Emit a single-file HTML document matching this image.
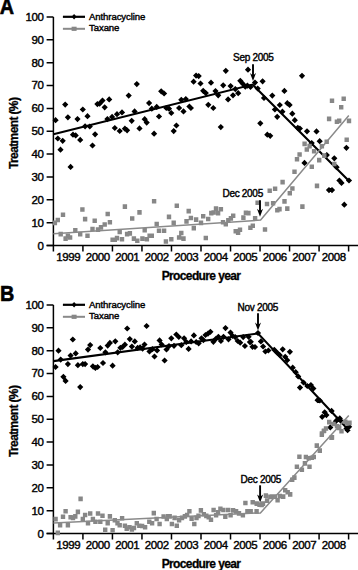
<!DOCTYPE html>
<html><head><meta charset="utf-8"><style>
html,body{margin:0;padding:0;background:#fff;}
body{width:358px;height:570px;overflow:hidden;}
svg{display:block;}
text{font-family:"Liberation Sans",sans-serif;fill:#000;}
.tk{font-size:11.5px;letter-spacing:-0.4px;stroke:#000;stroke-width:0.4px;}
.lg{font-size:9.6px;letter-spacing:-0.1px;stroke:#000;stroke-width:0.4px;}
.an{font-size:10px;letter-spacing:-0.3px;stroke:#000;stroke-width:0.4px;}
.xl{font-size:12px;font-weight:bold;letter-spacing:-0.62px;stroke:#000;stroke-width:0.3px;}
.lt{font-size:22px;font-weight:bold;stroke:#000;stroke-width:0.6px;}
.ax{fill:none;stroke:#000;stroke-width:1.5;}
</style></head><body>
<svg width="358" height="570" viewBox="0 0 358 570">
<rect width="358" height="570" fill="#fff"/>
<text transform="translate(-0.3 14) scale(0.9 1)" class="lt">A</text>
<path d="M53.4 16.9V251.6M46.6 245.6H358" class="ax"/>
<path d="M46.6 245.6H53.4M46.6 222.73H53.4M46.6 199.86H53.4M46.6 176.99H53.4M46.6 154.12H53.4M46.6 131.25H53.4M46.6 108.38H53.4M46.6 85.51H53.4M46.6 62.64H53.4M46.6 39.77H53.4M46.6 16.9H53.4M82.92 245.6V251.6M112.44 245.6V251.6M141.96 245.6V251.6M171.48 245.6V251.6M201 245.6V251.6M230.52 245.6V251.6M260.04 245.6V251.6M289.56 245.6V251.6M319.08 245.6V251.6M348.6 245.6V251.6" class="ax"/>
<text x="43.6" y="249.5" class="tk" text-anchor="end">0</text>
<text x="43.6" y="226.63" class="tk" text-anchor="end">10</text>
<text x="43.6" y="203.76" class="tk" text-anchor="end">20</text>
<text x="43.6" y="180.89" class="tk" text-anchor="end">30</text>
<text x="43.6" y="158.02" class="tk" text-anchor="end">40</text>
<text x="43.6" y="135.15" class="tk" text-anchor="end">50</text>
<text x="43.6" y="112.28" class="tk" text-anchor="end">60</text>
<text x="43.6" y="89.41" class="tk" text-anchor="end">70</text>
<text x="43.6" y="66.54" class="tk" text-anchor="end">80</text>
<text x="43.6" y="43.67" class="tk" text-anchor="end">90</text>
<text x="43.6" y="20.8" class="tk" text-anchor="end">100</text>
<text x="68.16" y="261.2" class="tk" text-anchor="middle">1999</text>
<text x="97.68" y="261.2" class="tk" text-anchor="middle">2000</text>
<text x="127.2" y="261.2" class="tk" text-anchor="middle">2001</text>
<text x="156.72" y="261.2" class="tk" text-anchor="middle">2002</text>
<text x="186.24" y="261.2" class="tk" text-anchor="middle">2003</text>
<text x="215.76" y="261.2" class="tk" text-anchor="middle">2004</text>
<text x="245.28" y="261.2" class="tk" text-anchor="middle">2005</text>
<text x="274.8" y="261.2" class="tk" text-anchor="middle">2006</text>
<text x="304.32" y="261.2" class="tk" text-anchor="middle">2007</text>
<text x="333.84" y="261.2" class="tk" text-anchor="middle">2008</text>
<text x="201" y="280.4" class="xl" text-anchor="middle">Procedure year</text>
<text transform="translate(18.2 133.35) rotate(-90)" class="xl" text-anchor="middle">Treatment (%)</text>
<path d="M62.9 16.8H85" stroke="#000" stroke-width="2.2"/>
<path d="M62.9 28.8H85" stroke="#8a8a8a" stroke-width="2"/>
<path d="M74.1 14.1l2.5 2.7l-2.5 2.7l-2.5 -2.7z" fill="#000"/>
<rect x="71.6" y="26.7" width="5" height="4.2" fill="#878787"/>
<text x="89" y="19.6" class="lg">Anthracycline</text>
<text x="89" y="31.2" class="lg">Taxane</text>
<path d="M55.6 117.1l3.1 3.1l-3.1 3.1l-3.1 -3.1zM65.2 101.5l3.1 3.1l-3.1 3.1l-3.1 -3.1zM57.8 135.4l3.1 3.1l-3.1 3.1l-3.1 -3.1zM62.7 137.7l3.1 3.1l-3.1 3.1l-3.1 -3.1zM60.5 146.6l3.1 3.1l-3.1 3.1l-3.1 -3.1zM67.9 114.2l3.1 3.1l-3.1 3.1l-3.1 -3.1zM70.6 163.8l3.1 3.1l-3.1 3.1l-3.1 -3.1zM73 131.6l3.1 3.1l-3.1 3.1l-3.1 -3.1zM75.7 132.3l3.1 3.1l-3.1 3.1l-3.1 -3.1zM77.5 116l3.1 3.1l-3.1 3.1l-3.1 -3.1zM80.2 136.8l3.1 3.1l-3.1 3.1l-3.1 -3.1zM82.8 106.4l3.1 3.1l-3.1 3.1l-3.1 -3.1zM85.1 123.2l3.1 3.1l-3.1 3.1l-3.1 -3.1zM87.5 113.1l3.1 3.1l-3.1 3.1l-3.1 -3.1zM89.8 123.4l3.1 3.1l-3.1 3.1l-3.1 -3.1zM92.5 142.4l3.1 3.1l-3.1 3.1l-3.1 -3.1zM95.1 131.2l3.1 3.1l-3.1 3.1l-3.1 -3.1zM97.4 101l3.1 3.1l-3.1 3.1l-3.1 -3.1zM99.6 100.6l3.1 3.1l-3.1 3.1l-3.1 -3.1zM102.5 97.5l3.1 3.1l-3.1 3.1l-3.1 -3.1zM104.7 104.2l3.1 3.1l-3.1 3.1l-3.1 -3.1zM107.4 116l3.1 3.1l-3.1 3.1l-3.1 -3.1zM109.2 96.3l3.1 3.1l-3.1 3.1l-3.1 -3.1zM112.1 113.8l3.1 3.1l-3.1 3.1l-3.1 -3.1zM114.8 124.9l3.1 3.1l-3.1 3.1l-3.1 -3.1zM117 111.1l3.1 3.1l-3.1 3.1l-3.1 -3.1zM119.7 127.9l3.1 3.1l-3.1 3.1l-3.1 -3.1zM122 109.3l3.1 3.1l-3.1 3.1l-3.1 -3.1zM124.9 125.6l3.1 3.1l-3.1 3.1l-3.1 -3.1zM127.1 127.2l3.1 3.1l-3.1 3.1l-3.1 -3.1zM128.7 92.5l3.1 3.1l-3.1 3.1l-3.1 -3.1zM131.7 117.7l3.1 3.1l-3.1 3.1l-3.1 -3.1zM134.6 108.3l3.1 3.1l-3.1 3.1l-3.1 -3.1zM136.8 81l3.1 3.1l-3.1 3.1l-3.1 -3.1zM139.5 125.3l3.1 3.1l-3.1 3.1l-3.1 -3.1zM144.7 116.1l3.1 3.1l-3.1 3.1l-3.1 -3.1zM146.7 119.5l3.1 3.1l-3.1 3.1l-3.1 -3.1zM149.1 100l3.1 3.1l-3.1 3.1l-3.1 -3.1zM151.8 105.6l3.1 3.1l-3.1 3.1l-3.1 -3.1zM154.1 130.6l3.1 3.1l-3.1 3.1l-3.1 -3.1zM156.7 103.8l3.1 3.1l-3.1 3.1l-3.1 -3.1zM159 113.4l3.1 3.1l-3.1 3.1l-3.1 -3.1zM161.2 88.2l3.1 3.1l-3.1 3.1l-3.1 -3.1zM164.1 90.4l3.1 3.1l-3.1 3.1l-3.1 -3.1zM166.3 104.9l3.1 3.1l-3.1 3.1l-3.1 -3.1zM169 105.6l3.1 3.1l-3.1 3.1l-3.1 -3.1zM171.3 109.9l3.1 3.1l-3.1 3.1l-3.1 -3.1zM173.7 128l3.1 3.1l-3.1 3.1l-3.1 -3.1zM176.4 122.4l3.1 3.1l-3.1 3.1l-3.1 -3.1zM179.1 104.9l3.1 3.1l-3.1 3.1l-3.1 -3.1zM181.3 96.7l3.1 3.1l-3.1 3.1l-3.1 -3.1zM183.5 108.3l3.1 3.1l-3.1 3.1l-3.1 -3.1zM185.8 96l3.1 3.1l-3.1 3.1l-3.1 -3.1zM189.4 103.4l3.1 3.1l-3.1 3.1l-3.1 -3.1zM190.9 104.9l3.1 3.1l-3.1 3.1l-3.1 -3.1zM193.6 78.6l3.1 3.1l-3.1 3.1l-3.1 -3.1zM196.1 72.5l3.1 3.1l-3.1 3.1l-3.1 -3.1zM198.7 73l3.1 3.1l-3.1 3.1l-3.1 -3.1zM200.5 80.4l3.1 3.1l-3.1 3.1l-3.1 -3.1zM203.2 87.7l3.1 3.1l-3.1 3.1l-3.1 -3.1zM205.8 90l3.1 3.1l-3.1 3.1l-3.1 -3.1zM208.3 101.7l3.1 3.1l-3.1 3.1l-3.1 -3.1zM211 79.6l3.1 3.1l-3.1 3.1l-3.1 -3.1zM213.3 104.9l3.1 3.1l-3.1 3.1l-3.1 -3.1zM215.5 88l3.1 3.1l-3.1 3.1l-3.1 -3.1zM218.2 92.2l3.1 3.1l-3.1 3.1l-3.1 -3.1zM220.8 124l3.1 3.1l-3.1 3.1l-3.1 -3.1zM223.2 82.2l3.1 3.1l-3.1 3.1l-3.1 -3.1zM225.8 67.7l3.1 3.1l-3.1 3.1l-3.1 -3.1zM228.1 96.3l3.1 3.1l-3.1 3.1l-3.1 -3.1zM230.6 83l3.1 3.1l-3.1 3.1l-3.1 -3.1zM233 92.2l3.1 3.1l-3.1 3.1l-3.1 -3.1zM235.3 86l3.1 3.1l-3.1 3.1l-3.1 -3.1zM238.2 90.1l3.1 3.1l-3.1 3.1l-3.1 -3.1zM240.3 77.7l3.1 3.1l-3.1 3.1l-3.1 -3.1zM242.5 80.3l3.1 3.1l-3.1 3.1l-3.1 -3.1zM245.3 83.6l3.1 3.1l-3.1 3.1l-3.1 -3.1zM247.4 82.5l3.1 3.1l-3.1 3.1l-3.1 -3.1zM248 66.6l3.1 3.1l-3.1 3.1l-3.1 -3.1zM250.5 83.9l3.1 3.1l-3.1 3.1l-3.1 -3.1zM255 79.5l3.1 3.1l-3.1 3.1l-3.1 -3.1zM257.7 85.4l3.1 3.1l-3.1 3.1l-3.1 -3.1zM260.3 120.2l3.1 3.1l-3.1 3.1l-3.1 -3.1zM262.6 78.2l3.1 3.1l-3.1 3.1l-3.1 -3.1zM264 94.9l3.1 3.1l-3.1 3.1l-3.1 -3.1zM267.3 131.6l3.1 3.1l-3.1 3.1l-3.1 -3.1zM270.2 132.7l3.1 3.1l-3.1 3.1l-3.1 -3.1zM272.3 92.5l3.1 3.1l-3.1 3.1l-3.1 -3.1zM274.9 106.4l3.1 3.1l-3.1 3.1l-3.1 -3.1zM277.2 113.7l3.1 3.1l-3.1 3.1l-3.1 -3.1zM279.8 101.9l3.1 3.1l-3.1 3.1l-3.1 -3.1zM282.4 108.6l3.1 3.1l-3.1 3.1l-3.1 -3.1zM284.4 87.8l3.1 3.1l-3.1 3.1l-3.1 -3.1zM287.3 100.1l3.1 3.1l-3.1 3.1l-3.1 -3.1zM289.6 101.8l3.1 3.1l-3.1 3.1l-3.1 -3.1zM292.3 110.6l3.1 3.1l-3.1 3.1l-3.1 -3.1zM294.8 117.1l3.1 3.1l-3.1 3.1l-3.1 -3.1zM297.8 124.7l3.1 3.1l-3.1 3.1l-3.1 -3.1zM299.9 125.4l3.1 3.1l-3.1 3.1l-3.1 -3.1zM302 72.7l3.1 3.1l-3.1 3.1l-3.1 -3.1zM304.5 159.8l3.1 3.1l-3.1 3.1l-3.1 -3.1zM307 128.2l3.1 3.1l-3.1 3.1l-3.1 -3.1zM311.7 140l3.1 3.1l-3.1 3.1l-3.1 -3.1zM316.5 128.3l3.1 3.1l-3.1 3.1l-3.1 -3.1zM319.7 138.1l3.1 3.1l-3.1 3.1l-3.1 -3.1zM326.8 152l3.1 3.1l-3.1 3.1l-3.1 -3.1zM329 187l3.1 3.1l-3.1 3.1l-3.1 -3.1zM332 187l3.1 3.1l-3.1 3.1l-3.1 -3.1zM334.3 155.2l3.1 3.1l-3.1 3.1l-3.1 -3.1zM336.6 164.1l3.1 3.1l-3.1 3.1l-3.1 -3.1zM339.4 177.4l3.1 3.1l-3.1 3.1l-3.1 -3.1zM341.5 179.8l3.1 3.1l-3.1 3.1l-3.1 -3.1zM344.3 201.6l3.1 3.1l-3.1 3.1l-3.1 -3.1zM346.4 144.7l3.1 3.1l-3.1 3.1l-3.1 -3.1zM349 177.4l3.1 3.1l-3.1 3.1l-3.1 -3.1z" fill="#000"/>
<polyline points="53.4 134.2 252.6 84.6 348.8 180.7" fill="none" stroke="#000" stroke-width="2.1"/>
<path d="M52.7 220.6h4.4v4.6h-4.4zM55.6 217.7h4.4v4.6h-4.4zM58.5 231.8h4.4v4.6h-4.4zM60.8 212.4h4.4v4.6h-4.4zM63.4 236.3h4.4v4.6h-4.4zM65.7 233.4h4.4v4.6h-4.4zM67.9 235.2h4.4v4.6h-4.4zM73.1 228h4.4v4.6h-4.4zM78 231.8h4.4v4.6h-4.4zM80.2 207.2h4.4v4.6h-4.4zM82.9 216.8h4.4v4.6h-4.4zM85.3 233.4h4.4v4.6h-4.4zM90.3 226.7h4.4v4.6h-4.4zM92.5 218.4h4.4v4.6h-4.4zM95.8 227.3h4.4v4.6h-4.4zM98.8 225.1h4.4v4.6h-4.4zM102.5 222.2h4.4v4.6h-4.4zM105.5 211.7h4.4v4.6h-4.4zM107.7 220h4.4v4.6h-4.4zM110.4 237.4h4.4v4.6h-4.4zM112.6 237.4h4.4v4.6h-4.4zM114.8 235.8h4.4v4.6h-4.4zM117.5 229.6h4.4v4.6h-4.4zM119.8 236.9h4.4v4.6h-4.4zM122.7 204.3h4.4v4.6h-4.4zM124.9 231.8h4.4v4.6h-4.4zM127.7 231.1h4.4v4.6h-4.4zM130 216.2h4.4v4.6h-4.4zM131.7 236.3h4.4v4.6h-4.4zM135.1 238.5h4.4v4.6h-4.4zM137.3 210.1h4.4v4.6h-4.4zM140.2 236.3h4.4v4.6h-4.4zM142.5 228h4.4v4.6h-4.4zM144.7 236.9h4.4v4.6h-4.4zM147.4 233.4h4.4v4.6h-4.4zM149.6 233.4h4.4v4.6h-4.4zM151.9 199h4.4v4.6h-4.4zM154.5 221.7h4.4v4.6h-4.4zM156.8 228.5h4.4v4.6h-4.4zM161.9 228.5h4.4v4.6h-4.4zM163.7 239.2h4.4v4.6h-4.4zM166.8 214.6h4.4v4.6h-4.4zM169.1 236.9h4.4v4.6h-4.4zM171.5 220.6h4.4v4.6h-4.4zM174.6 203.4h4.4v4.6h-4.4zM176.9 235.2h4.4v4.6h-4.4zM179.1 230.7h4.4v4.6h-4.4zM181.3 236.3h4.4v4.6h-4.4zM184.3 219.1h4.4v4.6h-4.4zM186.5 208.8h4.4v4.6h-4.4zM188.7 215.7h4.4v4.6h-4.4zM191.6 225.8h4.4v4.6h-4.4zM193.9 217.3h4.4v4.6h-4.4zM198.8 220.6h4.4v4.6h-4.4zM201 213.9h4.4v4.6h-4.4zM203.6 235.7h4.4v4.6h-4.4zM206 216.7h4.4v4.6h-4.4zM209.1 210.8h4.4v4.6h-4.4zM211.4 210.2h4.4v4.6h-4.4zM213.8 206.3h4.4v4.6h-4.4zM215.9 210.8h4.4v4.6h-4.4zM218.7 206.9h4.4v4.6h-4.4zM220.8 220h4.4v4.6h-4.4zM223.6 222h4.4v4.6h-4.4zM226.1 218.1h4.4v4.6h-4.4zM228.7 216.1h4.4v4.6h-4.4zM231 213.4h4.4v4.6h-4.4zM233.5 229h4.4v4.6h-4.4zM235.9 230.4h4.4v4.6h-4.4zM237.8 227.5h4.4v4.6h-4.4zM241.2 215.3h4.4v4.6h-4.4zM243.7 210.4h4.4v4.6h-4.4zM246.2 210.8h4.4v4.6h-4.4zM248.2 225.5h4.4v4.6h-4.4zM250.6 223.5h4.4v4.6h-4.4zM252.9 216.1h4.4v4.6h-4.4zM255.4 200.5h4.4v4.6h-4.4zM262.8 227.2h4.4v4.6h-4.4zM264.8 201.7h4.4v4.6h-4.4zM267.5 188.4h4.4v4.6h-4.4zM270.9 200.9h4.4v4.6h-4.4zM272.9 186.5h4.4v4.6h-4.4zM275.1 208h4.4v4.6h-4.4zM277.3 206.8h4.4v4.6h-4.4zM280.4 179.8h4.4v4.6h-4.4zM282.3 199.1h4.4v4.6h-4.4zM285.1 206.3h4.4v4.6h-4.4zM287.6 190.9h4.4v4.6h-4.4zM290.2 186.2h4.4v4.6h-4.4zM292.3 169.5h4.4v4.6h-4.4zM294.8 156.9h4.4v4.6h-4.4zM297.4 152.2h4.4v4.6h-4.4zM300.2 204.3h4.4v4.6h-4.4zM302.4 141.6h4.4v4.6h-4.4zM304.6 147.2h4.4v4.6h-4.4zM307.4 143.8h4.4v4.6h-4.4zM309.6 164.5h4.4v4.6h-4.4zM311.9 148.9h4.4v4.6h-4.4zM314.8 183.6h4.4v4.6h-4.4zM317 157.8h4.4v4.6h-4.4zM319.7 143.9h4.4v4.6h-4.4zM322.1 153.3h4.4v4.6h-4.4zM324.5 139.4h4.4v4.6h-4.4zM326.9 116.6h4.4v4.6h-4.4zM329.8 98.5h4.4v4.6h-4.4zM332.1 161.7h4.4v4.6h-4.4zM334.7 119.4h4.4v4.6h-4.4zM337 118.6h4.4v4.6h-4.4zM339 104.9h4.4v4.6h-4.4zM341.5 96.5h4.4v4.6h-4.4zM344.5 137.5h4.4v4.6h-4.4zM346.8 118.6h4.4v4.6h-4.4z" fill="#878787"/>
<polyline points="53.4 233.8 260.6 220.1 348.8 115.6" fill="none" stroke="#8a8a8a" stroke-width="1.5"/>
<text x="253.3" y="61" class="an" text-anchor="middle">Sep 2005</text>
<path d="M253 64.2V78" fill="none" stroke="#000" stroke-width="1.9"/>
<path d="M250 73L253 75.4L256 73L253 81z" fill="#000"/>
<text x="242.7" y="196.7" class="an" text-anchor="middle">Dec 2005</text>
<path d="M260 200.2V213.8" fill="none" stroke="#000" stroke-width="1.9"/>
<path d="M257 208.8L260 211.2L263 208.8L260 216.8z" fill="#000"/>
<text transform="translate(0.0 301) scale(0.9 1)" class="lt">B</text>
<path d="M53.4 304.9V539.6M46.6 533.6H358" class="ax"/>
<path d="M46.6 533.6H53.4M46.6 510.73H53.4M46.6 487.86H53.4M46.6 464.99H53.4M46.6 442.12H53.4M46.6 419.25H53.4M46.6 396.38H53.4M46.6 373.51H53.4M46.6 350.64H53.4M46.6 327.77H53.4M46.6 304.9H53.4M82.92 533.6V539.6M112.44 533.6V539.6M141.96 533.6V539.6M171.48 533.6V539.6M201 533.6V539.6M230.52 533.6V539.6M260.04 533.6V539.6M289.56 533.6V539.6M319.08 533.6V539.6M348.6 533.6V539.6" class="ax"/>
<text x="43.6" y="537.5" class="tk" text-anchor="end">0</text>
<text x="43.6" y="514.63" class="tk" text-anchor="end">10</text>
<text x="43.6" y="491.76" class="tk" text-anchor="end">20</text>
<text x="43.6" y="468.89" class="tk" text-anchor="end">30</text>
<text x="43.6" y="446.02" class="tk" text-anchor="end">40</text>
<text x="43.6" y="423.15" class="tk" text-anchor="end">50</text>
<text x="43.6" y="400.28" class="tk" text-anchor="end">60</text>
<text x="43.6" y="377.41" class="tk" text-anchor="end">70</text>
<text x="43.6" y="354.54" class="tk" text-anchor="end">80</text>
<text x="43.6" y="331.67" class="tk" text-anchor="end">90</text>
<text x="43.6" y="308.8" class="tk" text-anchor="end">100</text>
<text x="68.16" y="549.2" class="tk" text-anchor="middle">1999</text>
<text x="97.68" y="549.2" class="tk" text-anchor="middle">2000</text>
<text x="127.2" y="549.2" class="tk" text-anchor="middle">2001</text>
<text x="156.72" y="549.2" class="tk" text-anchor="middle">2002</text>
<text x="186.24" y="549.2" class="tk" text-anchor="middle">2003</text>
<text x="215.76" y="549.2" class="tk" text-anchor="middle">2004</text>
<text x="245.28" y="549.2" class="tk" text-anchor="middle">2005</text>
<text x="274.8" y="549.2" class="tk" text-anchor="middle">2006</text>
<text x="304.32" y="549.2" class="tk" text-anchor="middle">2007</text>
<text x="333.84" y="549.2" class="tk" text-anchor="middle">2008</text>
<text x="201" y="568.4" class="xl" text-anchor="middle">Procedure year</text>
<text transform="translate(18.2 421.35) rotate(-90)" class="xl" text-anchor="middle">Treatment (%)</text>
<path d="M62.9 304.8H85" stroke="#000" stroke-width="2.2"/>
<path d="M62.9 316.8H85" stroke="#8a8a8a" stroke-width="2"/>
<path d="M74.1 302.1l2.5 2.7l-2.5 2.7l-2.5 -2.7z" fill="#000"/>
<rect x="71.6" y="314.7" width="5" height="4.2" fill="#878787"/>
<text x="89" y="307.6" class="lg">Anthracycline</text>
<text x="89" y="319.2" class="lg">Taxane</text>
<path d="M55.6 363.9l3.1 3.1l-3.1 3.1l-3.1 -3.1zM58.5 347.6l3.1 3.1l-3.1 3.1l-3.1 -3.1zM60.7 356.5l3.1 3.1l-3.1 3.1l-3.1 -3.1zM63.4 373.7l3.1 3.1l-3.1 3.1l-3.1 -3.1zM65.6 377.8l3.1 3.1l-3.1 3.1l-3.1 -3.1zM67.9 361l3.1 3.1l-3.1 3.1l-3.1 -3.1zM70.6 352.5l3.1 3.1l-3.1 3.1l-3.1 -3.1zM72.8 336.4l3.1 3.1l-3.1 3.1l-3.1 -3.1zM75.7 350.3l3.1 3.1l-3.1 3.1l-3.1 -3.1zM77.9 362.1l3.1 3.1l-3.1 3.1l-3.1 -3.1zM80.2 384l3.1 3.1l-3.1 3.1l-3.1 -3.1zM82.8 361l3.1 3.1l-3.1 3.1l-3.1 -3.1zM85.1 361l3.1 3.1l-3.1 3.1l-3.1 -3.1zM88 346.5l3.1 3.1l-3.1 3.1l-3.1 -3.1zM90.2 342l3.1 3.1l-3.1 3.1l-3.1 -3.1zM92.9 363.2l3.1 3.1l-3.1 3.1l-3.1 -3.1zM95.4 364.8l3.1 3.1l-3.1 3.1l-3.1 -3.1zM97.6 363.9l3.1 3.1l-3.1 3.1l-3.1 -3.1zM100.3 344.9l3.1 3.1l-3.1 3.1l-3.1 -3.1zM103 359.9l3.1 3.1l-3.1 3.1l-3.1 -3.1zM105.4 349.2l3.1 3.1l-3.1 3.1l-3.1 -3.1zM107.7 342.5l3.1 3.1l-3.1 3.1l-3.1 -3.1zM109.9 339.8l3.1 3.1l-3.1 3.1l-3.1 -3.1zM112.6 362.6l3.1 3.1l-3.1 3.1l-3.1 -3.1zM115.3 338.2l3.1 3.1l-3.1 3.1l-3.1 -3.1zM117.7 349.2l3.1 3.1l-3.1 3.1l-3.1 -3.1zM120.4 344.7l3.1 3.1l-3.1 3.1l-3.1 -3.1zM122.6 343.8l3.1 3.1l-3.1 3.1l-3.1 -3.1zM124.9 341.6l3.1 3.1l-3.1 3.1l-3.1 -3.1zM127.2 325.4l3.1 3.1l-3.1 3.1l-3.1 -3.1zM129.8 336l3.1 3.1l-3.1 3.1l-3.1 -3.1zM131.9 343.5l3.1 3.1l-3.1 3.1l-3.1 -3.1zM134.8 338.3l3.1 3.1l-3.1 3.1l-3.1 -3.1zM137.6 344.8l3.1 3.1l-3.1 3.1l-3.1 -3.1zM140.1 344.3l3.1 3.1l-3.1 3.1l-3.1 -3.1zM142.6 345.6l3.1 3.1l-3.1 3.1l-3.1 -3.1zM144.5 341.4l3.1 3.1l-3.1 3.1l-3.1 -3.1zM146.6 322.9l3.1 3.1l-3.1 3.1l-3.1 -3.1zM149.5 348.3l3.1 3.1l-3.1 3.1l-3.1 -3.1zM152.4 346.1l3.1 3.1l-3.1 3.1l-3.1 -3.1zM154.5 353.4l3.1 3.1l-3.1 3.1l-3.1 -3.1zM157.1 347.3l3.1 3.1l-3.1 3.1l-3.1 -3.1zM159.6 337.3l3.1 3.1l-3.1 3.1l-3.1 -3.1zM161.7 341.4l3.1 3.1l-3.1 3.1l-3.1 -3.1zM164.6 357.4l3.1 3.1l-3.1 3.1l-3.1 -3.1zM166.5 346.4l3.1 3.1l-3.1 3.1l-3.1 -3.1zM169 343l3.1 3.1l-3.1 3.1l-3.1 -3.1zM171.3 335.2l3.1 3.1l-3.1 3.1l-3.1 -3.1zM174 342.7l3.1 3.1l-3.1 3.1l-3.1 -3.1zM176.3 331.4l3.1 3.1l-3.1 3.1l-3.1 -3.1zM178.8 333.9l3.1 3.1l-3.1 3.1l-3.1 -3.1zM181.3 342.1l3.1 3.1l-3.1 3.1l-3.1 -3.1zM184.1 335.2l3.1 3.1l-3.1 3.1l-3.1 -3.1zM186.4 338.9l3.1 3.1l-3.1 3.1l-3.1 -3.1zM188.6 345.8l3.1 3.1l-3.1 3.1l-3.1 -3.1zM191.1 338.3l3.1 3.1l-3.1 3.1l-3.1 -3.1zM193.9 332.3l3.1 3.1l-3.1 3.1l-3.1 -3.1zM196.2 338.9l3.1 3.1l-3.1 3.1l-3.1 -3.1zM198.7 340.2l3.1 3.1l-3.1 3.1l-3.1 -3.1zM201.5 335.2l3.1 3.1l-3.1 3.1l-3.1 -3.1zM203.4 337l3.1 3.1l-3.1 3.1l-3.1 -3.1zM205.5 331.9l3.1 3.1l-3.1 3.1l-3.1 -3.1zM208 330.5l3.1 3.1l-3.1 3.1l-3.1 -3.1zM210.4 328.7l3.1 3.1l-3.1 3.1l-3.1 -3.1zM213.4 338.7l3.1 3.1l-3.1 3.1l-3.1 -3.1zM215.9 335.7l3.1 3.1l-3.1 3.1l-3.1 -3.1zM218.4 333.7l3.1 3.1l-3.1 3.1l-3.1 -3.1zM220.9 337.9l3.1 3.1l-3.1 3.1l-3.1 -3.1zM223.5 333.7l3.1 3.1l-3.1 3.1l-3.1 -3.1zM225.5 325l3.1 3.1l-3.1 3.1l-3.1 -3.1zM228.5 336.2l3.1 3.1l-3.1 3.1l-3.1 -3.1zM230.5 329.5l3.1 3.1l-3.1 3.1l-3.1 -3.1zM232.7 332.9l3.1 3.1l-3.1 3.1l-3.1 -3.1zM235.2 334l3.1 3.1l-3.1 3.1l-3.1 -3.1zM237.7 337.9l3.1 3.1l-3.1 3.1l-3.1 -3.1zM240.2 339.6l3.1 3.1l-3.1 3.1l-3.1 -3.1zM243.2 334l3.1 3.1l-3.1 3.1l-3.1 -3.1zM244.9 342.9l3.1 3.1l-3.1 3.1l-3.1 -3.1zM248.6 333.7l3.1 3.1l-3.1 3.1l-3.1 -3.1zM249.9 339l3.1 3.1l-3.1 3.1l-3.1 -3.1zM250.8 338.7l3.1 3.1l-3.1 3.1l-3.1 -3.1zM252.5 343.7l3.1 3.1l-3.1 3.1l-3.1 -3.1zM255 343.9l3.1 3.1l-3.1 3.1l-3.1 -3.1zM258 329.9l3.1 3.1l-3.1 3.1l-3.1 -3.1zM260.9 338.3l3.1 3.1l-3.1 3.1l-3.1 -3.1zM263.1 343.4l3.1 3.1l-3.1 3.1l-3.1 -3.1zM265.4 348.4l3.1 3.1l-3.1 3.1l-3.1 -3.1zM268.4 347.4l3.1 3.1l-3.1 3.1l-3.1 -3.1zM274.3 346.7l3.1 3.1l-3.1 3.1l-3.1 -3.1zM277.1 349.6l3.1 3.1l-3.1 3.1l-3.1 -3.1zM279.8 352.1l3.1 3.1l-3.1 3.1l-3.1 -3.1zM282.7 346.2l3.1 3.1l-3.1 3.1l-3.1 -3.1zM285.2 353.7l3.1 3.1l-3.1 3.1l-3.1 -3.1zM287.2 357.1l3.1 3.1l-3.1 3.1l-3.1 -3.1zM289.9 348.7l3.1 3.1l-3.1 3.1l-3.1 -3.1zM292.7 364.6l3.1 3.1l-3.1 3.1l-3.1 -3.1zM295.7 369.1l3.1 3.1l-3.1 3.1l-3.1 -3.1zM298.2 373.3l3.1 3.1l-3.1 3.1l-3.1 -3.1zM300 384.5l3.1 3.1l-3.1 3.1l-3.1 -3.1zM303.5 379.4l3.1 3.1l-3.1 3.1l-3.1 -3.1zM307.3 382.9l3.1 3.1l-3.1 3.1l-3.1 -3.1zM310.9 382l3.1 3.1l-3.1 3.1l-3.1 -3.1zM313.4 385.4l3.1 3.1l-3.1 3.1l-3.1 -3.1zM317.6 397.1l3.1 3.1l-3.1 3.1l-3.1 -3.1zM319.8 397.4l3.1 3.1l-3.1 3.1l-3.1 -3.1zM322.2 413.7l3.1 3.1l-3.1 3.1l-3.1 -3.1zM324.7 409.2l3.1 3.1l-3.1 3.1l-3.1 -3.1zM326.4 412l3.1 3.1l-3.1 3.1l-3.1 -3.1zM331.6 407.8l3.1 3.1l-3.1 3.1l-3.1 -3.1zM330.3 424.3l3.1 3.1l-3.1 3.1l-3.1 -3.1zM335.9 418.1l3.1 3.1l-3.1 3.1l-3.1 -3.1zM339.8 415.3l3.1 3.1l-3.1 3.1l-3.1 -3.1zM346.5 425.4l3.1 3.1l-3.1 3.1l-3.1 -3.1zM349.1 423.7l3.1 3.1l-3.1 3.1l-3.1 -3.1zM337.4 416.5l3.1 3.1l-3.1 3.1l-3.1 -3.1zM340.6 417.5l3.1 3.1l-3.1 3.1l-3.1 -3.1zM347.6 427.1l3.1 3.1l-3.1 3.1l-3.1 -3.1z" fill="#000"/>
<polyline points="53.4 361.1 258.1 333.5 348.8 430.3" fill="none" stroke="#000" stroke-width="2.1"/>
<path d="M53.4 516.8h4.4v4.6h-4.4zM55.6 530.6h4.4v4.6h-4.4zM57.9 523h4.4v4.6h-4.4zM60.8 514.5h4.4v4.6h-4.4zM63.4 508.9h4.4v4.6h-4.4zM65.7 523h4.4v4.6h-4.4zM68.4 515h4.4v4.6h-4.4zM70.8 515.6h4.4v4.6h-4.4zM73.1 514.1h4.4v4.6h-4.4zM75.7 509.6h4.4v4.6h-4.4zM78.4 496.6h4.4v4.6h-4.4zM80.6 516.8h4.4v4.6h-4.4zM82.9 512.7h4.4v4.6h-4.4zM85.8 520.8h4.4v4.6h-4.4zM88 511.2h4.4v4.6h-4.4zM90.7 516.8h4.4v4.6h-4.4zM93.2 519.4h4.4v4.6h-4.4zM95.8 511.2h4.4v4.6h-4.4zM98.1 519.4h4.4v4.6h-4.4zM100.3 513.4h4.4v4.6h-4.4zM103 527.5h4.4v4.6h-4.4zM105.5 520.8h4.4v4.6h-4.4zM107.7 514.1h4.4v4.6h-4.4zM110.4 527.9h4.4v4.6h-4.4zM112.6 517.9h4.4v4.6h-4.4zM115.3 520.8h4.4v4.6h-4.4zM117.5 523h4.4v4.6h-4.4zM119.9 516h4.4v4.6h-4.4zM122.7 523.4h4.4v4.6h-4.4zM124.5 526.4h4.4v4.6h-4.4zM127.3 525h4.4v4.6h-4.4zM129.7 527.1h4.4v4.6h-4.4zM131.8 525.7h4.4v4.6h-4.4zM134.6 520.9h4.4v4.6h-4.4zM137.1 523.4h4.4v4.6h-4.4zM139.9 523.7h4.4v4.6h-4.4zM142.9 525h4.4v4.6h-4.4zM147.1 519.5h4.4v4.6h-4.4zM149.9 520.9h4.4v4.6h-4.4zM151.6 510.8h4.4v4.6h-4.4zM154.4 516.7h4.4v4.6h-4.4zM157.4 521.7h4.4v4.6h-4.4zM161.4 514.2h4.4v4.6h-4.4zM164.6 516.7h4.4v4.6h-4.4zM166 513.9h4.4v4.6h-4.4zM167.5 514.1h4.4v4.6h-4.4zM169.7 521.7h4.4v4.6h-4.4zM172.4 515.6h4.4v4.6h-4.4zM174.6 523.5h4.4v4.6h-4.4zM176.9 517.9h4.4v4.6h-4.4zM179.8 515.6h4.4v4.6h-4.4zM182.7 514.1h4.4v4.6h-4.4zM184.9 512.7h4.4v4.6h-4.4zM187.2 508.9h4.4v4.6h-4.4zM189.4 516.3h4.4v4.6h-4.4zM192.1 521.7h4.4v4.6h-4.4zM194.3 515.6h4.4v4.6h-4.4zM196.3 513.6h4.4v4.6h-4.4zM198.7 508.1h4.4v4.6h-4.4zM201.6 512h4.4v4.6h-4.4zM204.1 513.6h4.4v4.6h-4.4zM206.5 515h4.4v4.6h-4.4zM208.8 517.5h4.4v4.6h-4.4zM211.4 507.7h4.4v4.6h-4.4zM213.9 513h4.4v4.6h-4.4zM215.9 510.1h4.4v4.6h-4.4zM218.2 506.6h4.4v4.6h-4.4zM221.2 507.7h4.4v4.6h-4.4zM223.1 514.4h4.4v4.6h-4.4zM226 507.7h4.4v4.6h-4.4zM228.4 513h4.4v4.6h-4.4zM230.9 508.1h4.4v4.6h-4.4zM233.9 509.1h4.4v4.6h-4.4zM236.8 511.1h4.4v4.6h-4.4zM240.7 513h4.4v4.6h-4.4zM243.2 500.7h4.4v4.6h-4.4zM245.2 509.1h4.4v4.6h-4.4zM248.5 509.1h4.4v4.6h-4.4zM250.5 499.9h4.4v4.6h-4.4zM254.4 509.1h4.4v4.6h-4.4zM254.5 501.3h4.4v4.6h-4.4zM257.3 502.3h4.4v4.6h-4.4zM259.5 502.6h4.4v4.6h-4.4zM260.8 501.3h4.4v4.6h-4.4zM263.7 493.3h4.4v4.6h-4.4zM264.9 498.3h4.4v4.6h-4.4zM268.2 494.6h4.4v4.6h-4.4zM269.9 494.3h4.4v4.6h-4.4zM272.6 494.3h4.4v4.6h-4.4zM275.4 497.9h4.4v4.6h-4.4zM277.6 493.8h4.4v4.6h-4.4zM281 494.3h4.4v4.6h-4.4zM283 487.9h4.4v4.6h-4.4zM285.5 489.9h4.4v4.6h-4.4zM288 492.1h4.4v4.6h-4.4zM290 477.5h4.4v4.6h-4.4zM292.2 475.3h4.4v4.6h-4.4zM294.7 464.4h4.4v4.6h-4.4zM297.2 454.4h4.4v4.6h-4.4zM299.7 467.4h4.4v4.6h-4.4zM302.7 461.1h4.4v4.6h-4.4zM303.7 454.7h4.4v4.6h-4.4zM306.5 456h4.4v4.6h-4.4zM307.3 464.4h4.4v4.6h-4.4zM309.6 455.5h4.4v4.6h-4.4zM311.6 454.7h4.4v4.6h-4.4zM314.6 443.3h4.4v4.6h-4.4zM317.6 448.3h4.4v4.6h-4.4zM319.6 432.5h4.4v4.6h-4.4zM321.6 428.7h4.4v4.6h-4.4zM323.8 426.2h4.4v4.6h-4.4zM327 419.8h4.4v4.6h-4.4zM329.3 435.4h4.4v4.6h-4.4zM331.4 421.7h4.4v4.6h-4.4zM334.8 424h4.4v4.6h-4.4zM337 425.6h4.4v4.6h-4.4zM339.3 429h4.4v4.6h-4.4zM343.1 419.5h4.4v4.6h-4.4zM345.1 421.2h4.4v4.6h-4.4zM347.3 420.6h4.4v4.6h-4.4zM321.9 428.4h4.4v4.6h-4.4zM319.7 431.2h4.4v4.6h-4.4zM329.8 435.1h4.4v4.6h-4.4z" fill="#878787"/>
<polyline points="53.4 523.1 260.4 512.9 348.8 415.6" fill="none" stroke="#8a8a8a" stroke-width="1.5"/>
<text x="257.8" y="311.2" class="an" text-anchor="middle">Nov 2005</text>
<path d="M258 313.2V327.6" fill="none" stroke="#000" stroke-width="1.9"/>
<path d="M255 322.6L258 325L261 322.6L258 330.6z" fill="#000"/>
<text x="260.8" y="482.7" class="an" text-anchor="middle">Dec 2005</text>
<path d="M260.1 485.3V499.4" fill="none" stroke="#000" stroke-width="1.9"/>
<path d="M257.1 494.4L260.1 496.8L263.1 494.4L260.1 502.4z" fill="#000"/>
</svg>
</body></html>
